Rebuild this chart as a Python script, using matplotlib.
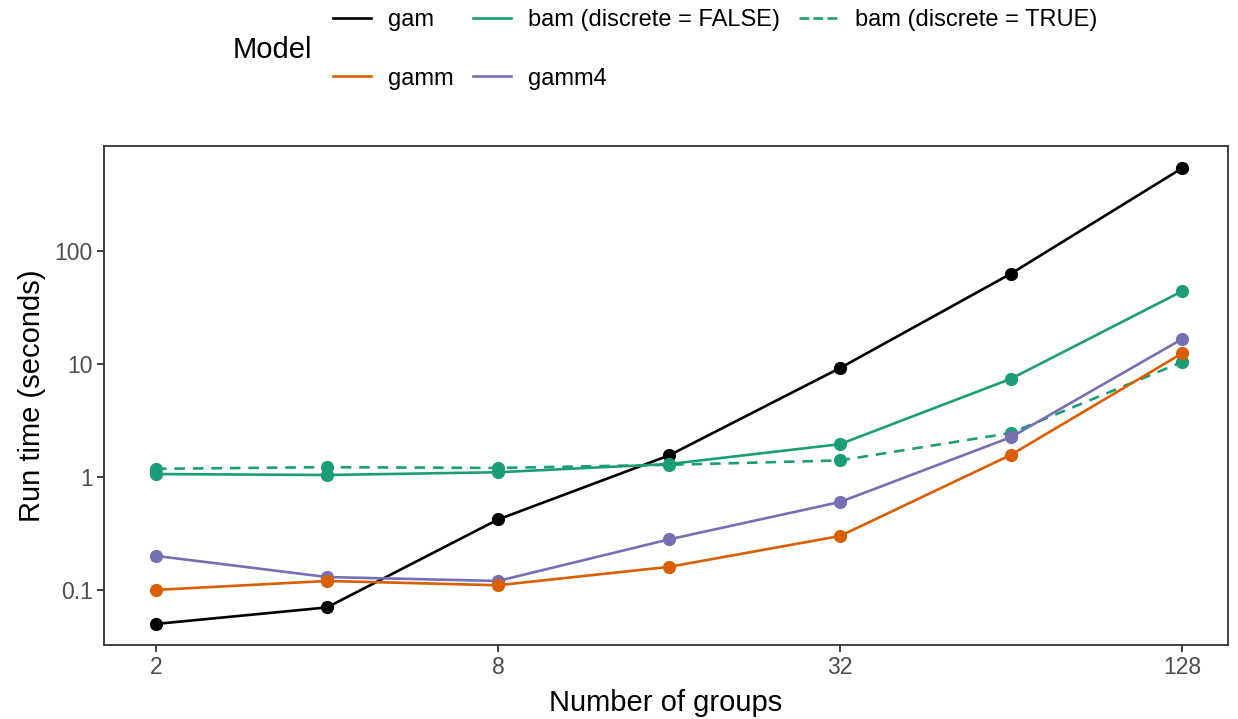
import numpy as np
import matplotlib
matplotlib.use("Agg")
import matplotlib.pyplot as plt
from matplotlib.lines import Line2D
from matplotlib.ticker import FixedLocator, FixedFormatter, NullLocator

groups = [2, 4, 8, 16, 32, 64, 128]
gam = [0.05, 0.07, 0.42, 1.55, 9.2, 63, 540]
bam_false = [1.06, 1.04, 1.1, 1.3, 1.95, 7.4, 44]
bam_true = [1.18, 1.22, 1.2, 1.28, 1.4, 2.45, 10.4]
gamm = [0.10, 0.12, 0.11, 0.16, 0.30, 1.57, 12.4]
gamm4 = [0.20, 0.13, 0.12, 0.28, 0.60, 2.25, 16.6]

xticks = [2, 8, 32, 128]
yticks = [0.1, 1, 10, 100]
ytick_labels = ["0.1", "1", "10", "100"]

green, orange, purple = "#1B9E77", "#D95F02", "#7570B3"

plt.rcParams["font.family"] = ["Liberation Sans", "DejaVu Sans"]

fig = plt.figure(figsize=(12.38, 7.19), dpi=100)
ax = fig.add_axes([0.084, 0.103, 0.908, 0.694])

lw, ms = 1.9, 8.5
h_gam, = ax.plot(groups, gam, color="black", lw=lw, marker="o", ms=ms, label="gam")
h_bf, = ax.plot(groups, bam_false, color=green, lw=lw, marker="o", ms=ms,
                label="bam (discrete = FALSE)")
h_bt, = ax.plot(groups, bam_true, color=green, lw=lw, ls=(0, (4, 3)), marker="o", ms=ms,
                label="bam (discrete = TRUE)")
h_g4, = ax.plot(groups, gamm4, color=purple, lw=lw, marker="o", ms=ms, label="gamm4")
h_gm, = ax.plot(groups, gamm, color=orange, lw=lw, marker="o", ms=ms, label="gamm")

ax.set_xscale("log", base=2)
ax.set_yscale("log")
ax.set_xlim(2 ** 0.696, 2 ** 7.269)
ax.set_ylim(10 ** -1.487, 10 ** 2.929)

ax.xaxis.set_major_locator(FixedLocator(xticks))
ax.xaxis.set_major_formatter(FixedFormatter([str(t) for t in xticks]))
ax.xaxis.set_minor_locator(NullLocator())
ax.yaxis.set_major_locator(FixedLocator(yticks))
ax.yaxis.set_major_formatter(FixedFormatter(ytick_labels))
ax.yaxis.set_minor_locator(NullLocator())

ax.tick_params(axis="both", direction="out", length=5, width=1.3, color="#333333",
               labelsize=16.5, labelcolor="#4D4D4D", pad=3)
for s in ax.spines.values():
    s.set_color("#333333")
    s.set_linewidth(1.3)

ax.set_xlabel("Number of groups", fontsize=21, labelpad=7)
ax.set_ylabel("Run time (seconds)", fontsize=21, labelpad=6)

# legend sits above the panel, title on the left
handles = [h_gam, h_gm, h_bf, h_g4, h_bt]
leg_handles = [Line2D([], [], color=h.get_color(), lw=lw, ls=h.get_linestyle())
               for h in handles]
fig.legend(leg_handles, [h.get_label() for h in handles], ncol=3, frameon=False,
           loc="upper left", bbox_to_anchor=(333 / 1238, 1 - 9 / 719), fontsize=17,
           borderpad=0, borderaxespad=0,
           handlelength=1.6, handletextpad=0.75, columnspacing=0.8, labelspacing=1.55)
fig.text(233 / 1238, 1 - 50 / 719, "Model", fontsize=21, va="center", ha="left")

fig.savefig("out.png", dpi=100)
